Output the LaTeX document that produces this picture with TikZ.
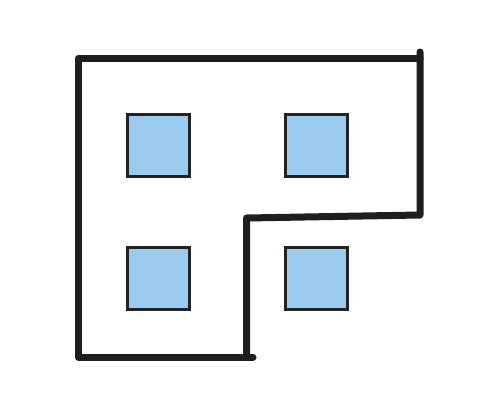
\documentclass[tikz,border=0pt]{standalone}
\begin{document}
\begin{tikzpicture}[x=1pt,y=-1pt,
  wall/.style={line width=7pt,draw={rgb,255:red,30;green,30;blue,30},line cap=round,line join=round},
  room/.style={draw={rgb,255:red,34;green,34;blue,34},line width=3pt,fill={rgb,255:red,154;green,202;blue,238},minimum width=62pt,minimum height=62pt,inner sep=0pt,outer sep=0pt}]
\useasboundingbox (0,0) rectangle (501,408);
\coordinate (a) at (420,52);
\coordinate (b) at (420,215);
\coordinate (c) at (246.5,218);
\coordinate (d) at (246.5,357);
\coordinate (e) at (253,357);
\coordinate (f) at (78.5,357);
\coordinate (g) at (78.5,58);
\coordinate (h) at (420,58);
\draw[wall] (a) -- (b) -- (c) -- (d);
\draw[wall] (e) -- (f) -- (g) -- (h);
\node[room] (r1) at (158,145.5) {};
\node[room] (r2) at (316,145.5) {};
\node[room] (r3) at (158,278) {};
\node[room] (r4) at (316,278.5) {};
\end{tikzpicture}
\end{document}
